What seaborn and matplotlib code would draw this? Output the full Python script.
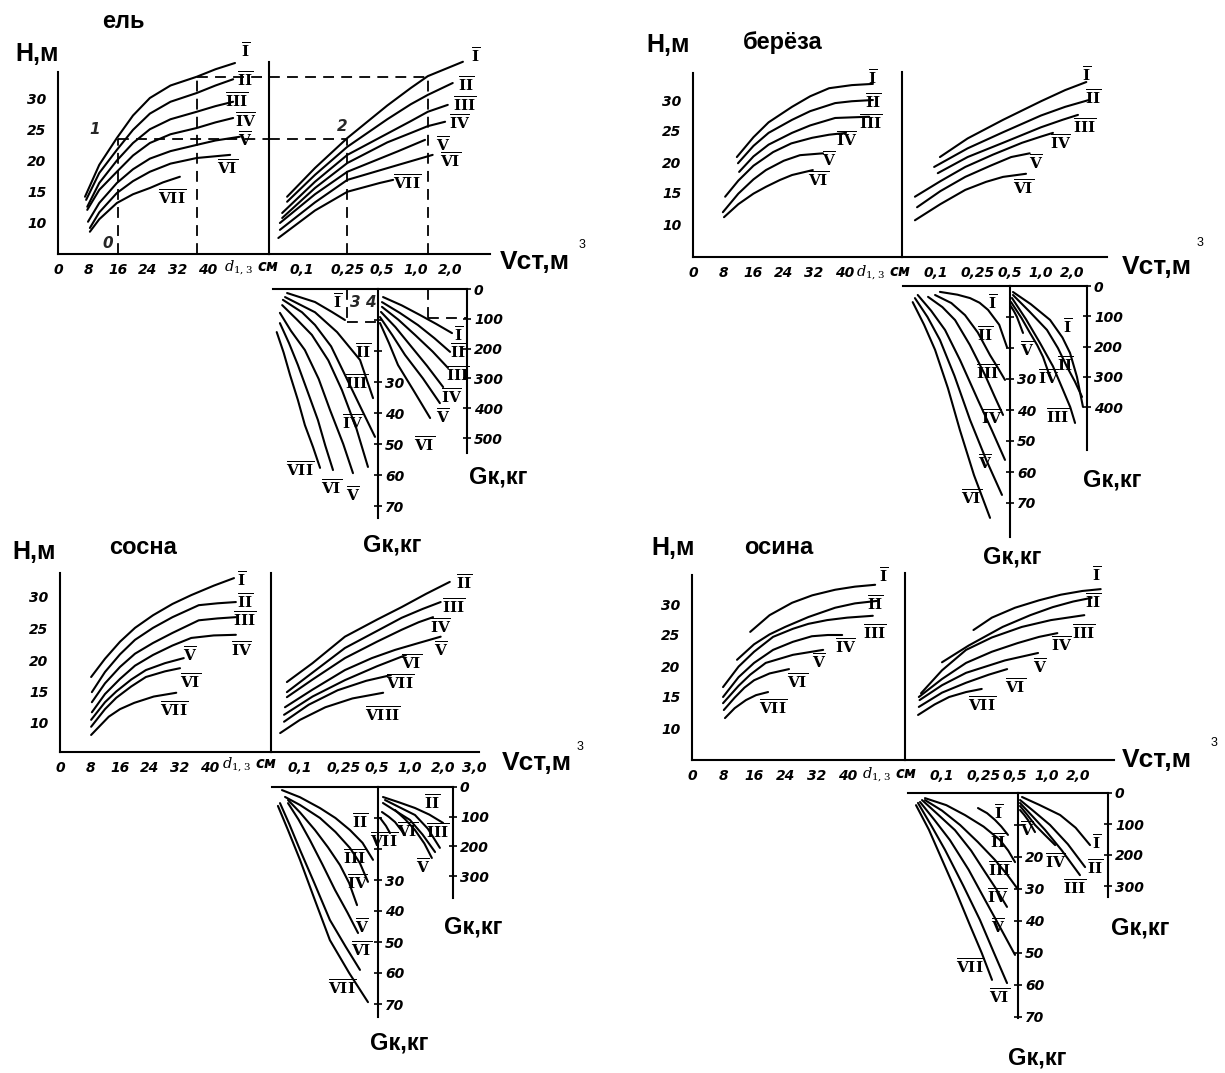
import matplotlib
matplotlib.use("Agg")
import matplotlib.pyplot as plt
import seaborn as sns

sns.set_theme(style="white")
plt.rcParams["font.family"] = ["DejaVu Sans"]
plt.rcParams["mathtext.fontset"] = "dejavuserif"

W, H = 1225, 1073

# ---------------- data ----------------
# H (m) over d1.3 (cm), per quality class
EL_HD = {
    "I": ([7.2, 11, 15.7, 20, 24.5, 30, 37, 42, 47.2], [14.2, 19.3, 23.6, 27.2, 30, 32.0, 33.4, 34.6, 35.6]),
    "II": ([7.5, 11, 15.7, 20, 24.5, 30, 37, 42, 46.7], [13.7, 18, 21.7, 24.9, 27.5, 29.4, 30.8, 32, 33]),
    "III": ([7.8, 11, 15.7, 20, 24.5, 30, 37, 42, 46.7], [12.6, 16.4, 20, 22.8, 25, 26.6, 27.8, 28.7, 29.4]),
    "IV": ([7.8, 11, 15.7, 20, 24.5, 30, 37, 42, 46.7], [12.1, 15.3, 18.2, 20.8, 22.8, 24.2, 25.2, 26.1, 26.8]),
    "V": ([8, 11, 15.7, 20, 24.5, 30, 37, 42, 48.5], [10.2, 13.2, 16.4, 18.6, 20.3, 21.5, 22.5, 23.2, 23.8]),
    "VI": ([8.5, 11, 15.7, 20, 24.5, 30, 37, 45.9], [9.2, 11.7, 14.8, 16.7, 18.2, 19.5, 20.4, 20.9]),
    "VII": ([8.5, 11, 15.7, 20, 24.5, 28, 32.5], [8.6, 10.6, 13.2, 14.6, 15.6, 16.5, 17.4]),
}
# H (m) over stem volume V (m3)
EL_HV = {
    "I": ([0.074, 0.13, 0.25, 0.56, 0.9, 1.27, 2.58], [14.2, 18.8, 23.6, 28.8, 31.6, 33.5, 35.8]),
    "II": ([0.074, 0.13, 0.25, 0.56, 0.9, 1.27, 2.1], [13.4, 17.7, 22.2, 26.6, 29.0, 30.5, 32.4]),
    "III": ([0.067, 0.13, 0.25, 0.56, 0.9, 1.27, 1.9], [11.6, 16.6, 20.9, 24.3, 26.3, 27.8, 28.9]),
    "IV": ([0.067, 0.13, 0.25, 0.56, 0.9, 1.27, 1.8], [10.8, 15.6, 19.6, 22.9, 24.4, 25.5, 26.2]),
    "V": ([0.064, 0.13, 0.25, 0.7, 1.2], [10, 14.6, 18.2, 21.5, 23.3]),
    "VI": ([0.064, 0.13, 0.25, 0.7, 1.4], [8.9, 13.3, 16.9, 19.3, 20.9]),
    "VII": ([0.062, 0.13, 0.25, 0.48, 0.63], [7.6, 12, 15, 16.4, 16.9]),
}
# crown mass Gk (kg), small trees (0-70 scale)
EL_GL = {
    "I": ([0.074, 0.13, 0.183, 0.238], [1.3, 4.2, 7.4, 10.0]),
    "II": ([0.071, 0.13, 0.203, 0.323, 0.42], [2.6, 7.5, 13.9, 22.9, 35.2]),
    "III": ([0.068, 0.1, 0.13, 0.18, 0.238, 0.33, 0.437], [3.5, 7.5, 11.6, 18.5, 27.7, 38.5, 47.7]),
    "IV": ([0.067, 0.09, 0.122, 0.17, 0.224, 0.3, 0.379], [5.2, 9.8, 14.8, 23, 32.6, 45, 57.4]),
    "V": ([0.064, 0.08, 0.106, 0.14, 0.176, 0.23, 0.28], [7.7, 13.5, 19.7, 29, 39.0, 50, 59.4]),
    "VI": ([0.064, 0.077, 0.092, 0.113, 0.138, 0.16, 0.187], [11.0, 17.5, 24.5, 33.5, 42.3, 50.5, 58.4]),
    "VII": ([0.06, 0.069, 0.0785, 0.092, 0.106, 0.125, 0.144], [13.9, 20.5, 27.7, 35.8, 43.9, 51, 57.7]),
}
# crown mass Gk (kg), large trees (0-500 scale)
EL_GR = {
    "I": ([0.514, 0.75, 1.08, 1.5, 2.07], [27, 55, 87, 117, 148]),
    "II": ([0.503, 0.72, 1.04, 1.45, 1.99], [44, 80, 121, 165, 211]),
    "III": ([0.503, 0.7, 0.98, 1.4, 1.91], [60, 103, 154, 210, 265]),
    "IV": ([0.493, 0.66, 0.886, 1.25, 1.73], [77, 128, 188, 258, 329]),
    "V": ([0.483, 0.62, 0.8, 1.15, 1.62], [94, 155, 221, 300, 383]),
    "VI": ([0.483, 0.58, 0.695, 0.95, 1.33], [114, 182, 255, 340, 433]),
}

BE_HD = {
    "I": ([11.6, 16, 20, 26.2, 31, 36, 42, 47.6], [20.8, 24, 26.4, 28.9, 30.6, 31.9, 32.4, 32.6]),
    "II": ([11.9, 16, 20, 26.2, 31, 37.6, 42, 47.6], [19.8, 22.6, 24.7, 26.8, 28.2, 29.5, 29.8, 30]),
    "III": ([12.2, 16, 20, 26.2, 31, 37.6, 42, 46.6], [18.4, 20.9, 22.8, 24.7, 25.9, 27.1, 27.2, 27.3]),
    "IV": ([8.5, 12, 16, 21.2, 26, 31.5, 36, 40.5], [14.4, 17, 19.4, 21.6, 23, 23.9, 24.4, 24.7]),
    "V": ([7.9, 12, 16, 19.3, 24, 28.3, 34.4], [11.9, 14.9, 17.2, 18.7, 20.2, 21.1, 21.4]),
    "VI": ([8.2, 12, 16, 19.3, 23, 26.2, 31.7], [11.1, 13.2, 14.9, 16, 17.1, 17.9, 18.7]),
}
BE_HV = {
    "I": ([0.109, 0.2, 0.435, 1.0, 1.7, 2.7], [20.8, 23.8, 26.8, 29.8, 31.6, 32.9]),
    "II": ([0.096, 0.2, 0.435, 1.0, 1.7, 2.86], [19.2, 22.2, 24.8, 27.5, 28.9, 30]),
    "III": ([0.104, 0.2, 0.435, 1.0, 1.6, 2.25], [18.2, 20.8, 23.1, 25.6, 26.8, 27.6]),
    "IV": ([0.063, 0.11, 0.19, 0.35, 0.66, 1.0, 1.3], [14.4, 16.9, 19.2, 21.2, 23.1, 24.1, 24.7]),
    "V": ([0.066, 0.11, 0.19, 0.33, 0.52, 0.78], [12.7, 15.3, 17.6, 19.4, 20.8, 21.4]),
    "VI": ([0.063, 0.11, 0.19, 0.3, 0.435, 0.72], [10.6, 13.2, 15.5, 16.8, 17.6, 18.1]),
}
BE_GL = {
    "I": ([0.109, 0.16, 0.211, 0.26, 0.313, 0.4, 0.474], [1.9, 2.8, 3.9, 5.4, 7.7, 12.5, 19.7]),
    "II": ([0.098, 0.14, 0.189, 0.25, 0.327, 0.39, 0.454], [2.9, 5.5, 9.4, 15, 22.3, 26.5, 30.3]),
    "III": ([0.084, 0.115, 0.152, 0.21, 0.293, 0.36, 0.435], [3.5, 6.8, 11.0, 19, 28.7, 35.5, 41.6]),
    "IV": ([0.067, 0.09, 0.122, 0.17, 0.251, 0.34, 0.454], [2.9, 8, 14.2, 24, 36.8, 46.5, 56.1]),
    "V": ([0.063, 0.083, 0.109, 0.15, 0.211, 0.3, 0.425], [3.9, 10, 17.4, 29, 43.2, 56, 67.4]),
    "VI": ([0.06, 0.077, 0.098, 0.13, 0.169, 0.23, 0.327], [5.2, 12.5, 20.6, 33, 46.5, 61, 74.8]),
}
BE_GR = {
    "I": ([0.541, 0.8, 1.22, 1.6, 1.89, 2.2, 2.51], [19.8, 60, 112, 170, 221, 300, 399]),
    "II": ([0.541, 0.78, 1.14, 1.45, 1.77, 2.1, 2.46], [29.7, 85, 145, 205, 267, 315, 366]),
    "III": ([0.529, 0.72, 0.978, 1.3, 1.62, 1.9, 2.11], [39.6, 110, 188, 265, 343, 400, 452]),
    "IV": ([0.518, 0.65, 0.786, 0.92, 1.045, 1.22], [52.8, 105, 155, 195, 234, 300]),
    "V": ([0.507, 0.55, 0.59, 0.674], [62.7, 82, 102, 155]),
}

SO_HD = {
    "I": ([8.3, 12, 16, 20, 24.8, 30, 35, 41, 46.4], [17.3, 20.2, 22.9, 25.1, 27.1, 28.9, 30.3, 31.8, 33]),
    "II": ([8.5, 12, 16, 20, 24.8, 30, 37, 42, 46.9], [14.9, 18.1, 20.9, 23.2, 25.1, 26.8, 28.7, 29.0, 29.2]),
    "III": ([8.5, 12, 16, 20, 24.8, 30, 37, 42, 46.9], [13.3, 16.3, 18.9, 21, 22.7, 24.3, 26.3, 26.6, 26.8]),
    "IV": ([8.5, 12, 16, 20, 24.8, 30, 35, 41, 46.9], [11.7, 14.6, 17.0, 19.1, 20.8, 22.3, 23.5, 23.9, 24]),
    "V": ([8.3, 12, 15, 19, 22.9, 28, 33], [10.5, 13.3, 15, 16.9, 18.4, 19.5, 20.3]),
    "VI": ([8.3, 12, 15, 19, 22.9, 28, 32], [9.4, 12.2, 14, 15.8, 17.3, 18.2, 18.7]),
    "VII": ([8.3, 13, 16, 19.8, 25, 31], [8.1, 11, 12.2, 13.2, 14.2, 14.8]),
}
SO_HV = {
    "II": ([0.076, 0.13, 0.256, 0.5, 0.84, 1.4, 2.3], [16.5, 19.5, 23.7, 26.4, 28.4, 30.5, 32.4]),
    "III": ([0.076, 0.13, 0.256, 0.5, 0.84, 1.3, 1.9], [14.9, 18, 21.9, 24.6, 26.7, 28.1, 29.2]),
    "IV": ([0.076, 0.13, 0.256, 0.5, 0.84, 1.2, 1.62], [14.1, 16.9, 20.3, 22.9, 24.8, 26, 26.8]),
    "V": ([0.073, 0.13, 0.256, 0.45, 0.73, 1.2, 1.9], [12.5, 15.3, 18.4, 20.3, 21.6, 22.7, 23.7]),
    "VI": ([0.0716, 0.13, 0.256, 0.5, 0.92], [11.3, 14.2, 16.8, 19, 20.8]),
    "VII": ([0.0716, 0.12, 0.22, 0.4, 0.67], [10.2, 12.9, 15.2, 16.7, 17.6]),
    "VIII": ([0.066, 0.1, 0.17, 0.3, 0.57], [8.4, 10.5, 12.5, 13.9, 14.8]),
}
SO_GL = {
    "II": ([0.0686, 0.1, 0.152, 0.21, 0.285, 0.37, 0.461], [1.0, 3.3, 6.8, 10, 13.9, 18, 23.5]),
    "III": ([0.0731, 0.1, 0.152, 0.21, 0.285, 0.35, 0.415], [3.2, 5.8, 10, 14.5, 19.7, 24.5, 30.6]),
    "IV": ([0.0778, 0.1, 0.137, 0.18, 0.231, 0.28, 0.33], [4.2, 8.2, 13.9, 19.5, 25.2, 31, 38.1]),
    "V": ([0.0778, 0.097, 0.123, 0.16, 0.208, 0.27, 0.337], [5.2, 10.5, 17.1, 25, 33.2, 40.5, 47.1]),
    "VI": ([0.0658, 0.08, 0.1, 0.135, 0.187, 0.26, 0.351], [5.2, 12, 20.3, 31, 42.9, 51.5, 59]),
    "VII": ([0.063, 0.078, 0.1, 0.135, 0.187, 0.28, 0.415], [6.1, 14, 23.5, 36, 49.4, 60, 69.4]),
}
SO_GR = {
    "II": ([0.568, 0.8, 1.11, 1.5, 2.0], [33.7, 52, 70.7, 93, 121]),
    "III": ([0.593, 0.8, 1.11, 1.45, 1.87], [43.8, 68, 94.3, 140, 205]),
    "IV": ([0.568, 0.75, 1.0, 1.3, 1.69], [53.9, 82, 111, 160, 219]),
    "V": ([0.731, 0.9, 1.11, 1.35, 1.58], [77.4, 108, 145, 190, 239]),
    "VI": ([0.556, 0.64, 0.731, 0.901], [84.2, 100, 118, 162]),
    "VII": ([0.534, 0.605, 0.658], [104, 131, 155]),
}

OS_HD = {
    "I": ([15, 20, 25.8, 31, 36.9, 42, 47.2], [25.5, 28.2, 30.2, 31.4, 32.3, 32.8, 33.1]),
    "II": ([11.6, 16, 20, 24, 30, 36.9, 42, 47.7], [21, 23.5, 25.1, 26.3, 27.9, 29.4, 30.1, 30.5]),
    "III": ([8, 12, 16, 20.9, 26, 30, 34.8, 40, 46.6], [16.6, 19.9, 22.3, 24.7, 26.0, 26.8, 27.4, 27.8, 28.1]),
    "IV": ([8, 12, 16, 20.9, 26, 30.9, 35, 38.7], [15, 18.2, 20.5, 22.6, 23.9, 24.8, 25, 25]),
    "V": ([8, 12, 15, 19, 26, 33.8], [14, 16.8, 18.6, 20.5, 21.8, 22.6]),
    "VI": ([8.2, 11, 13.5, 16, 20, 25], [12.9, 14.9, 16.5, 17.7, 18.8, 19.5]),
    "VII": ([8.5, 11, 13.9, 16.5, 19.6], [11.6, 13.2, 14.5, 15.3, 15.8]),
}
OS_HV = {
    "I": ([0.2, 0.3, 0.5, 0.85, 1.37, 2.2, 3.3], [25.8, 27.8, 29.4, 30.6, 31.5, 32.1, 32.4]),
    "II": ([0.1, 0.18, 0.38, 0.7, 1.15, 1.8, 2.7], [20.6, 23.3, 26.3, 28.2, 29.5, 30.4, 31]),
    "III": ([0.063, 0.1, 0.17, 0.3, 0.58, 1.1, 2.3], [15.6, 19.3, 22.6, 24.6, 26.3, 27.4, 28.2]),
    "IV": ([0.06, 0.1, 0.17, 0.3, 0.53, 0.85, 1.27], [15, 17.9, 20.5, 22.3, 23.7, 24.7, 25.3]),
    "V": ([0.061, 0.1, 0.17, 0.4, 0.83], [14.5, 16.9, 18.9, 20.9, 22.1]),
    "VI": ([0.06, 0.1, 0.17, 0.28, 0.42], [13.4, 15.7, 17.3, 18.6, 19.5]),
    "VII": ([0.059, 0.085, 0.117, 0.17, 0.24], [12.1, 13.8, 15, 15.8, 16.3]),
}
OS_GL = {
    "I": ([0.221, 0.27, 0.321, 0.37, 0.428], [4.7, 6.3, 8.4, 10.5, 13.1]),
    "II": ([0.0687, 0.11, 0.166, 0.25, 0.359, 0.43, 0.5], [1.6, 3.8, 6.9, 10.5, 14.7, 18, 21.6]),
    "III": ([0.0687, 0.1, 0.149, 0.22, 0.321, 0.42, 0.522], [2.2, 5.5, 10, 15.3, 20.9, 25.5, 29.7]),
    "IV": ([0.0644, 0.09, 0.133, 0.19, 0.258, 0.33, 0.419], [2.2, 6.5, 11.6, 18, 24.7, 30, 35.6]),
    "V": ([0.0616, 0.085, 0.119, 0.18, 0.258, 0.36, 0.5], [2.8, 8.5, 14.7, 24, 33.4, 42, 50.6]),
    "VI": ([0.0589, 0.08, 0.107, 0.16, 0.231, 0.31, 0.419], [3.1, 10.5, 17.8, 29, 39.7, 49.5, 59.4]),
    "VII": ([0.0564, 0.075, 0.0957, 0.135, 0.185, 0.24, 0.301], [3.8, 11.5, 19.4, 30.5, 41.3, 50, 58.4]),
}
OS_GR = {
    "I": ([0.583, 0.85, 1.35, 1.9, 2.61], [12.9, 38, 71, 112, 168]),
    "II": ([0.558, 0.75, 1.08, 1.6, 2.34], [22.6, 58, 103, 165, 239]),
    "III": ([0.558, 0.72, 0.968, 1.4, 2.09], [32.3, 72, 119, 185, 265]),
    "IV": ([0.558, 0.66, 0.776, 0.95, 1.21], [41.9, 72, 103, 133, 168]),
    "V": ([0.558, 0.61, 0.665, 0.776], [54.8, 70, 87.1, 126]),
}

# axis ticks
D_TICKS = [0, 8, 16, 24, 32, 40]
H_TICKS = [10, 15, 20, 25, 30]
V_TICKS = [0.1, 0.25, 0.5, 1.0, 2.0]
V_LABELS = ["0,1", "0,25", "0,5", "1,0", "2,0"]
V_TICKS_SO = [0.1, 0.25, 0.5, 1.0, 2.0, 3.0]
V_LABELS_SO = ["0,1", "0,25", "0,5", "1,0", "2,0", "3,0"]
V_MINOR = [0.07, 0.135, 0.18, 0.35, 0.7, 0.85, 1.3, 1.6]
GL_TICKS = [10, 20, 30, 40, 50, 60, 70]
GL_LABELS = ["", "", "30", "40", "50", "60", "70"]
GL_LABELS_OS = ["", "20", "30", "40", "50", "60", "70"]
GR_TICKS_500 = [0, 100, 200, 300, 400, 500]
GR_TICKS_400 = [0, 100, 200, 300, 400]
GR_TICKS_300 = [0, 100, 200, 300]

# worked example on the spruce chart (points 0-4)
EL_EX1 = dict(d=16, h=23.5, v=0.25, g=10.5)
EL_EX2 = dict(d=37, h=33.4, v=1.27, g=97)

# ---------------- layout (pixel geometry of the scan) ----------------
LAY_EL = dict(yax=58, div=269, top=72, divtop=62, xax=254, xend=490, cm=3.75, h10=223, hpx=6.25,
              v01=302, vdec=114, g_l=273, g_m=378, g_r=467, g_top=289, g_lbot=518, g_rbot=453,
              g_lpx=3.1, g_rpx=0.298)
LAY_BE = dict(yax=693, div=902, top=73, divtop=72, xax=257, xend=1107, cm=3.78, h10=224, hpx=6.2,
              v01=936, vdec=105, g_l=903, g_m=1010, g_r=1087, g_top=286, g_lbot=537, g_rbot=450,
              g_lpx=3.1, g_rpx=0.303)
LAY_SO = dict(yax=60, div=271, top=573, divtop=575, xax=752, xend=479, cm=3.75, h10=723, hpx=6.3,
              v01=300, vdec=110, g_l=272, g_m=378, g_r=453, g_top=787, g_lbot=1017, g_rbot=898,
              g_lpx=3.1, g_rpx=0.297)
LAY_OS = dict(yax=692, div=905, top=575, divtop=573, xax=760, xend=1114, cm=3.88, h10=728, hpx=6.2,
              v01=942, vdec=104.5, g_l=908, g_m=1018, g_r=1108, g_top=793, g_lbot=1018, g_rbot=897,
              g_lpx=3.2, g_rpx=0.31)

TXT_EL = dict(name=("ель", 123, 22), hm=(37, 54), vst=(535, 262), cube=(582, 245), dlab=(252, 268),
              gkl=(392, 545), gkr=(498, 477))
TXT_BE = dict(name=("берёза", 783, 43), hm=(668, 45), vst=(1157, 267), cube=(1200, 243), dlab=(884, 273),
              gkl=(1012, 557), gkr=(1112, 480))
TXT_SO = dict(name=("сосна", 143, 548), hm=(34, 552), vst=(537, 763), cube=(580, 747), dlab=(250, 765),
              gkl=(399, 1043), gkr=(473, 927))
TXT_OS = dict(name=("осина", 779, 548), hm=(673, 548), vst=(1157, 760), cube=(1214, 743), dlab=(890, 775),
              gkl=(1037, 1058), gkr=(1140, 928))

# class label anchors (data units of each sub-chart)
EL_HD_LAB = {"I": (49.9, 37.4), "II": (49.9, 32.9), "III": (47.7, 29.4), "IV": (49.9, 26.2),
             "V": (49.9, 23.3), "VI": (45.3, 18.8), "VII": (30.4, 14.0)}
EL_HV_LAB = {"I": (3.35, 36.6), "II": (2.74, 32.1), "III": (2.69, 28.9), "IV": (2.43, 26.0),
             "V": (1.73, 22.5), "VI": (1.99, 19.8), "VII": (0.83, 16.4)}
EL_GL_LAB = {"I": (0.207, 4.2), "II": (0.343, 20.3), "III": (0.304, 30.3), "IV": (0.28, 43.2),
             "V": (0.28, 66.5), "VI": (0.183, 64.2), "VII": (0.096, 58.4)}
EL_GR_LAB = {"I": (2.34, 154), "II": (2.34, 211), "III": (2.34, 289), "IV": (2.07, 362),
             "V": (1.73, 432), "VI": (1.2, 523)}
BE_HD_LAB = {"I": (47.6, 33.5), "II": (47.6, 29.7), "III": (47.1, 26.3), "IV": (40.7, 23.5),
             "V": (36, 20.3), "VI": (33.3, 17.1)}
BE_HV_LAB = {"I": (2.74, 34.0), "II": (3.13, 30.3), "III": (2.63, 25.6), "IV": (1.55, 23.1),
             "V": (0.896, 19.8), "VI": (0.689, 15.8)}
BE_GL_LAB = {"I": (0.349, 5.5), "II": (0.293, 15.8), "III": (0.313, 28.1), "IV": (0.341, 42.6),
             "V": (0.293, 57.1), "VI": (0.22, 68.4)}
BE_GR_LAB = {"I": (1.81, 135), "II": (1.69, 261), "III": (1.45, 432), "IV": (1.17, 304), "V": (0.736, 211)}
SO_HD_LAB = {"I": (48.3, 32.7), "II": (49.3, 29.2), "III": (49.3, 26.3), "IV": (48.3, 21.6),
             "V": (34.7, 20.8), "VI": (34.7, 16.5), "VII": (30.4, 12.1)}
SO_HV_LAB = {"II": (3.1, 32.2), "III": (2.51, 28.3), "IV": (1.91, 25.2), "V": (1.91, 21.6),
             "VI": (1.04, 19.5), "VII": (0.81, 16.3), "VIII": (0.568, 11.3)}
SO_GL_LAB = {"II": (0.351, 11.3), "III": (0.316, 22.9), "IV": (0.337, 31), "V": (0.366, 45.2),
             "VI": (0.366, 52.6), "VII": (0.241, 64.8)}
SO_GR_LAB = {"II": (1.58, 54), "III": (1.8, 152), "VI": (0.95, 150), "VII": (0.58, 182), "V": (1.31, 269)}
OS_HD_LAB = {"I": (49.5, 34.4), "II": (47.2, 30.0), "III": (47.2, 25.3), "IV": (39.7, 23.1),
             "V": (32.7, 20.6), "VI": (27.3, 17.3), "VII": (20.9, 13.2)}
OS_HV_LAB = {"I": (3.04, 34.7), "II": (2.79, 30.3), "III": (2.28, 25.3), "IV": (1.38, 23.4),
             "V": (0.866, 19.8), "VI": (0.5, 16.5), "VII": (0.241, 13.7)}
OS_GL_LAB = {"I": (0.344, 6.3), "II": (0.344, 15.3), "III": (0.359, 24.1), "IV": (0.344, 32.5),
             "V": (0.344, 41.9), "VI": (0.359, 63.8), "VII": (0.185, 54.4)}
OS_GR_LAB = {"I": (3.04, 161), "II": (2.91, 242), "III": (1.87, 306), "IV": (1.22, 223), "V": (0.651, 119)}

LW = 1.5
BIG_FONT = dict(family="Liberation Sans", fontweight="bold")

fig = plt.figure(figsize=(W / 100, H / 100), dpi=100)
fig.patch.set_facecolor("white")


def px_box(x0, y0, x1, y1):
    return [x0 / W, 1 - y1 / H, (x1 - x0) / W, (y1 - y0) / H]


def ftext(x, y, s, **kw):
    fig.text(x / W, 1 - y / H, s, ha="center", va="center", color="black", **kw)


def roman(s):
    return r"$\overline{\mathbf{" + s + "}}$"


def style_axes(ax, show):
    ax.patch.set_alpha(0)
    for side in ["left", "right", "top", "bottom"]:
        ax.spines[side].set_visible(side in show)
        ax.spines[side].set_color("black")
        ax.spines[side].set_linewidth(LW)
    ax.grid(False)
    ax.tick_params(direction="inout", length=6, width=1.2, colors="black", labelsize=10)


def bold_ticks(ax):
    for lab in ax.get_xticklabels() + ax.get_yticklabels():
        lab.set_fontstyle("italic")
        lab.set_fontweight("bold")


def draw_curves(ax, curves, labels):
    for cls, (xs, ys) in curves.items():
        sns.lineplot(x=xs, y=ys, ax=ax, color="black", lw=LW, sort=False, estimator=None)
    for line in ax.lines:
        line.set_clip_on(False)
    for cls, (x, y) in labels.items():
        ax.text(x, y, roman(cls), ha="center", va="center", fontsize=11, color="black", clip_on=False)


def draw_panel(lay, txt, hd, hd_lab, hv, hv_lab, gl, gl_lab, gr, gr_lab,
               vticks, vlabels, gl_labels, gr_ticks):
    vx = lambda x: 0.1 * 10 ** ((x - lay["v01"]) / lay["vdec"])
    box_top = min(lay["top"], lay["divtop"])
    hmin = 10 - (lay["xax"] - lay["h10"]) / lay["hpx"]
    hmax = 10 + (lay["h10"] - box_top) / lay["hpx"]
    h_axtop = 10 + (lay["h10"] - lay["top"]) / lay["hpx"]

    # H over d1.3
    ax_d = fig.add_axes(px_box(lay["yax"], box_top, lay["div"], lay["xax"]))
    style_axes(ax_d, ["left", "bottom"])
    ax_d.set_xlim(0, (lay["div"] - lay["yax"]) / lay["cm"])
    ax_d.set_ylim(hmin, hmax)
    ax_d.spines["left"].set_bounds(hmin, h_axtop)
    ax_d.set_xticks(D_TICKS, [str(t) for t in D_TICKS])
    ax_d.set_yticks(H_TICKS, [str(t) for t in H_TICKS])
    ax_d.tick_params(axis="y", direction="out", length=5)
    bold_ticks(ax_d)
    draw_curves(ax_d, hd, hd_lab)

    # H over V
    ax_v = fig.add_axes(px_box(lay["div"], box_top, lay["xend"], lay["xax"]))
    style_axes(ax_v, ["left", "bottom"])
    ax_v.set_xscale("log")
    ax_v.set_xlim(vx(lay["div"]), vx(lay["xend"]))
    ax_v.set_ylim(hmin, hmax)
    ax_v.set_xticks(vticks, vlabels)
    ax_v.set_xticks(V_MINOR, [""] * len(V_MINOR), minor=True)
    ax_v.tick_params(axis="x", which="minor", direction="inout", length=5, width=1.2)
    ax_v.tick_params(axis="y", left=False, labelleft=False)
    bold_ticks(ax_v)
    if len(vticks) > 5:
        # the last label sits close to its neighbour: push it right
        ax_v.get_xticklabels()[-1].set_ha("left")
    draw_curves(ax_v, hv, hv_lab)

    # crown mass, left scale
    ax_gl = fig.add_axes(px_box(lay["g_l"], lay["g_top"], lay["g_m"], lay["g_lbot"]))
    style_axes(ax_gl, ["top", "right"])
    ax_gl.set_xscale("log")
    ax_gl.set_xlim(vx(lay["g_l"]), vx(lay["g_m"]))
    ax_gl.set_ylim((lay["g_lbot"] - lay["g_top"]) / lay["g_lpx"], 0)
    ax_gl.set_xticks([])
    ax_gl.set_xticks([], minor=True)
    ax_gl.yaxis.tick_right()
    ax_gl.set_yticks(GL_TICKS, gl_labels)
    ax_gl.tick_params(axis="y", pad=2)
    bold_ticks(ax_gl)
    draw_curves(ax_gl, gl, gl_lab)

    # crown mass, right scale
    ax_gr = fig.add_axes(px_box(lay["g_m"], lay["g_top"], lay["g_r"], lay["g_rbot"]))
    style_axes(ax_gr, ["top", "right"])
    ax_gr.set_xscale("log")
    ax_gr.set_xlim(vx(lay["g_m"]), vx(lay["g_r"]))
    ax_gr.set_ylim((lay["g_rbot"] - lay["g_top"]) / lay["g_rpx"], 0)
    ax_gr.set_xticks([])
    ax_gr.set_xticks([], minor=True)
    ax_gr.yaxis.tick_right()
    ax_gr.set_yticks(gr_ticks, [str(t) for t in gr_ticks])
    ax_gr.tick_params(axis="y", pad=2)
    bold_ticks(ax_gr)
    draw_curves(ax_gr, gr, gr_lab)

    # texts
    name, nx, ny = txt["name"]
    ftext(nx, ny, name, fontsize=17, **BIG_FONT)
    ftext(*txt["hm"], "Н,м", fontsize=18, **BIG_FONT)
    ftext(*txt["vst"], "Vст,м", fontsize=19, **BIG_FONT)
    ftext(*txt["cube"], "3", fontsize=9, family="Liberation Sans")
    ftext(*txt["dlab"], r"$d_{1,3}$ см", fontsize=10.5, fontstyle="italic", fontweight="bold")
    ftext(*txt["gkl"], "Gк,кг", fontsize=17, **BIG_FONT)
    ftext(*txt["gkr"], "Gк,кг", fontsize=17, **BIG_FONT)
    return ax_d, ax_v, ax_gl, ax_gr


el_axes = draw_panel(LAY_EL, TXT_EL, EL_HD, EL_HD_LAB, EL_HV, EL_HV_LAB, EL_GL, EL_GL_LAB, EL_GR, EL_GR_LAB,
                     V_TICKS, V_LABELS, GL_LABELS, GR_TICKS_500)
draw_panel(LAY_BE, TXT_BE, BE_HD, BE_HD_LAB, BE_HV, BE_HV_LAB, BE_GL, BE_GL_LAB, BE_GR, BE_GR_LAB,
           V_TICKS, V_LABELS, GL_LABELS, GR_TICKS_400)
draw_panel(LAY_SO, TXT_SO, SO_HD, SO_HD_LAB, SO_HV, SO_HV_LAB, SO_GL, SO_GL_LAB, SO_GR, SO_GR_LAB,
           V_TICKS_SO, V_LABELS_SO, GL_LABELS, GR_TICKS_300)
draw_panel(LAY_OS, TXT_OS, OS_HD, OS_HD_LAB, OS_HV, OS_HV_LAB, OS_GL, OS_GL_LAB, OS_GR, OS_GR_LAB,
           V_TICKS, V_LABELS, GL_LABELS_OS, GR_TICKS_300)

# worked example (dashed construction lines) on the spruce chart
ax_d, ax_v, ax_gl, ax_gr = el_axes
dash = dict(color="black", lw=1.3, ls=(0, (6, 4)), clip_on=False)
hb = ax_d.get_ylim()[0]
for ex in (EL_EX1, EL_EX2):
    ax_d.plot([ex["d"], ex["d"]], [hb, ex["h"]], **dash)
    ax_d.plot([ex["d"], ax_d.get_xlim()[1]], [ex["h"], ex["h"]], **dash)
    ax_v.plot([ax_v.get_xlim()[0], ex["v"]], [ex["h"], ex["h"]], **dash)
    ax_v.plot([ex["v"], ex["v"]], [hb, ex["h"]], **dash)
ax_gl.plot([EL_EX1["v"], EL_EX1["v"]], [0, EL_EX1["g"]], **dash)
ax_gl.plot([EL_EX1["v"], ax_gl.get_xlim()[1]], [EL_EX1["g"], EL_EX1["g"]], **dash)
ax_gr.plot([EL_EX2["v"], EL_EX2["v"]], [0, EL_EX2["g"]], **dash)
ax_gr.plot([EL_EX2["v"], ax_gr.get_xlim()[1]], [EL_EX2["g"], EL_EX2["g"]], **dash)
pt = dict(fontsize=11, fontstyle="italic", fontweight="bold", ha="center", va="center")
ax_d.text(13.3, 6.8, "0", **pt)
ax_d.text(9.9, 24.9, "1", **pt)
ax_v.text(0.224, 25.4, "2", **pt)
ax_gl.text(0.292, 4.5, "3", **pt)
ax_gl.text(0.395, 4.5, "4", **pt)

fig.savefig("out.png", dpi=100, facecolor="white")
